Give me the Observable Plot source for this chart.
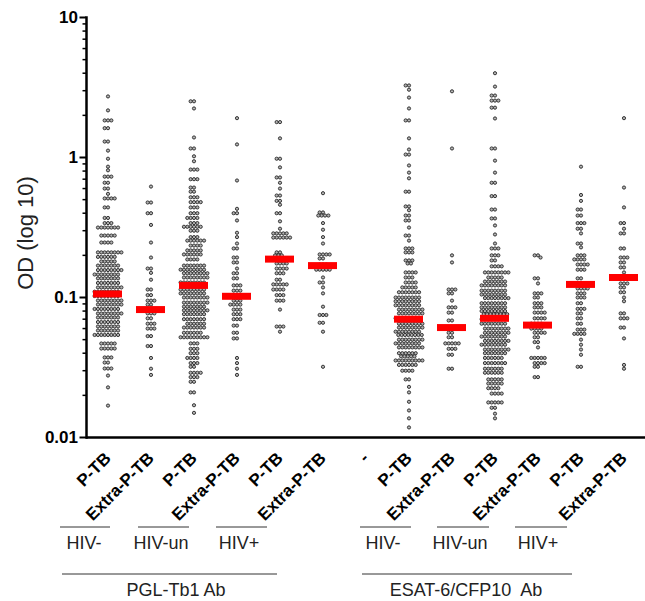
<!DOCTYPE html>
<html><head><meta charset="utf-8">
<script src="https://cdn.jsdelivr.net/npm/d3@7"></script>
<script src="https://cdn.jsdelivr.net/npm/@observablehq/plot@0.6"></script>
<style>
html,body{margin:0;padding:0;background:#fff;}
#chart{width:645px;height:601px;}
</style></head><body><div id="chart"></div>
<script>
// x slots (one empty slot separates the two antibody panels)
const groups = ["pglNegP","pglNegX","pglUnP","pglUnX","pglPosP","pglPosX","gap","esatNegP","esatNegX","esatUnP","esatUnX","esatPosP","esatPosX"];
const tickLabels = ["P-TB","Extra-P-TB","P-TB","Extra-P-TB","P-TB","Extra-P-TB","-","P-TB","Extra-P-TB","P-TB","Extra-P-TB","P-TB","Extra-P-TB"];
const medians = [0.106,0.082,0.122,0.102,0.188,0.169,null,0.070,0.061,0.071,0.0635,0.124,0.139];
const majorTicks = [0.01,0.1,1,10];
const minorTicks = [0.02,0.03,0.04,0.05,0.06,0.07,0.08,0.09,0.2,0.3,0.4,0.5,0.6,0.7,0.8,0.9,2,3,4,5,6,7,8,9];
const hivLabels = ["HIV-","HIV-un","HIV+"];
const antibodyLabels = ["PGL-Tb1 Ab","ESAT-6/CFP10  Ab"];
const yLabel = "OD (log 10)";

// each group: [OD value, number of samples at that level]
const pglNegP = [[2.73,1],[2.17,1],[1.84,3],[1.62,2],[1.30,2],[1.12,1],[0.98,1],[0.86,1],[0.81,1],[0.73,3],[0.66,2],[0.60,2],[0.55,1],[0.51,4],[0.44,2],[0.37,2],[0.34,3],[0.316,7],[0.277,5],[0.247,4],[0.21,8],[0.195,6],[0.181,5],[0.169,7],[0.157,8],[0.146,8],[0.137,7],[0.127,7],[0.118,8],[0.110,8],[0.1025,8],[0.0952,8],[0.0891,8],[0.0828,8],[0.0769,8],[0.0720,7],[0.0668,7],[0.0621,7],[0.0581,7],[0.0540,8],[0.0469,5],[0.0432,5],[0.0373,3],[0.0343,2],[0.0311,3],[0.0277,1],[0.0228,1],[0.0169,1]];
const pglNegX = [[0.62,1],[0.477,2],[0.40,2],[0.33,1],[0.247,1],[0.193,1],[0.161,2],[0.15,1],[0.134,1],[0.114,2],[0.104,2],[0.095,3],[0.089,2],[0.082,3],[0.077,3],[0.071,2],[0.065,3],[0.060,3],[0.053,2],[0.045,2],[0.037,1],[0.031,1],[0.028,1]];
const pglUnP = [[2.52,2],[2.24,1],[1.39,1],[1.16,2],[1.02,1],[0.94,1],[0.82,3],[0.70,3],[0.61,2],[0.57,2],[0.52,3],[0.48,4],[0.44,3],[0.40,3],[0.37,4],[0.34,3],[0.32,6],[0.30,3],[0.27,3],[0.255,6],[0.235,4],[0.217,5],[0.203,6],[0.187,4],[0.169,7],[0.158,8],[0.149,8],[0.139,8],[0.128,8],[0.122,8],[0.114,8],[0.107,8],[0.100,8],[0.092,8],[0.086,7],[0.081,8],[0.076,7],[0.070,7],[0.065,6],[0.061,7],[0.056,6],[0.052,9],[0.047,3],[0.043,3],[0.040,3],[0.037,4],[0.034,3],[0.032,2],[0.029,4],[0.027,3],[0.025,2],[0.021,2],[0.017,1],[0.015,1]];
const pglUnX = [[1.91,1],[1.24,1],[0.685,1],[0.43,1],[0.40,2],[0.355,1],[0.29,1],[0.27,1],[0.243,1],[0.224,2],[0.193,2],[0.178,2],[0.161,1],[0.149,2],[0.137,2],[0.122,3],[0.112,3],[0.103,4],[0.095,3],[0.089,4],[0.082,3],[0.076,3],[0.070,3],[0.063,2],[0.056,2],[0.051,2],[0.037,1],[0.034,1],[0.031,1],[0.028,1]];
const pglPosP = [[1.79,2],[1.37,1],[0.98,2],[0.85,1],[0.72,2],[0.66,1],[0.60,1],[0.535,2],[0.49,2],[0.46,1],[0.40,2],[0.35,1],[0.31,1],[0.287,5],[0.268,6],[0.21,2],[0.20,3],[0.187,4],[0.175,4],[0.161,4],[0.149,3],[0.134,2],[0.124,5],[0.114,4],[0.104,3],[0.095,3],[0.082,1],[0.062,3],[0.057,1]];
const pglPosX = [[0.556,1],[0.405,2],[0.385,4],[0.34,1],[0.305,1],[0.27,1],[0.243,1],[0.203,4],[0.19,2],[0.172,3],[0.158,5],[0.139,1],[0.128,2],[0.118,1],[0.107,1],[0.086,1],[0.075,3],[0.066,2],[0.057,1],[0.032,1]];
const esatNegP = [[3.27,2],[3.05,1],[2.68,1],[2.24,1],[1.84,2],[1.37,1],[1.14,1],[1.05,2],[0.877,1],[0.78,1],[0.71,1],[0.57,2],[0.447,2],[0.42,1],[0.385,2],[0.355,2],[0.316,1],[0.277,2],[0.255,1],[0.224,3],[0.21,3],[0.184,3],[0.175,2],[0.151,4],[0.139,3],[0.128,4],[0.118,5],[0.109,7],[0.100,8],[0.094,8],[0.088,8],[0.082,8],[0.077,8],[0.071,8],[0.065,8],[0.061,8],[0.057,8],[0.054,8],[0.050,8],[0.047,8],[0.044,8],[0.040,6],[0.038,5],[0.0355,9],[0.033,6],[0.030,4],[0.026,2],[0.023,1],[0.021,1],[0.018,1],[0.0156,1],[0.0137,1],[0.0118,1]];
const esatNegX = [[2.97,1],[1.16,1],[0.2,1],[0.178,1],[0.114,3],[0.107,2],[0.095,1],[0.085,3],[0.078,2],[0.0685,2],[0.061,3],[0.056,2],[0.052,2],[0.047,5],[0.043,3],[0.039,2],[0.031,2]];
const esatUnP = [[4.0,1],[3.21,1],[2.77,2],[2.55,3],[2.27,2],[1.9,1],[1.16,2],[0.95,1],[0.78,1],[0.66,2],[0.53,2],[0.425,2],[0.367,2],[0.327,1],[0.282,1],[0.243,1],[0.224,3],[0.2,3],[0.184,2],[0.167,4],[0.151,8],[0.139,5],[0.13,7],[0.122,8],[0.112,8],[0.105,8],[0.099,8],[0.091,8],[0.085,8],[0.080,8],[0.076,8],[0.070,8],[0.065,8],[0.060,8],[0.056,8],[0.0526,8],[0.049,8],[0.046,8],[0.0425,8],[0.040,7],[0.037,6],[0.034,7],[0.031,6],[0.029,6],[0.026,5],[0.0243,5],[0.0225,4],[0.0206,4],[0.0178,5],[0.0163,2],[0.0148,1],[0.0137,1]];
const esatUnX = [[0.2,2],[0.193,1],[0.137,2],[0.126,1],[0.107,3],[0.1,2],[0.091,3],[0.085,3],[0.078,4],[0.071,4],[0.065,4],[0.06,4],[0.056,4],[0.052,2],[0.048,2],[0.044,1],[0.037,5],[0.034,4],[0.032,2],[0.027,2]];
const esatPosP = [[0.86,1],[0.54,1],[0.49,1],[0.425,2],[0.385,2],[0.34,3],[0.31,2],[0.287,1],[0.243,2],[0.228,1],[0.2,3],[0.187,4],[0.172,4],[0.158,3],[0.137,2],[0.126,2],[0.116,4],[0.107,3],[0.1,3],[0.091,2],[0.083,3],[0.077,2],[0.071,2],[0.065,2],[0.059,3],[0.055,4],[0.05,1],[0.046,1],[0.0425,1],[0.039,1],[0.032,2]];
const esatPosX = [[1.91,1],[0.61,1],[0.44,1],[0.34,2],[0.31,1],[0.287,2],[0.224,2],[0.193,3],[0.178,2],[0.164,2],[0.151,1],[0.139,2],[0.126,3],[0.118,2],[0.109,2],[0.1,1],[0.094,1],[0.077,2],[0.071,3],[0.061,2],[0.051,1],[0.033,1],[0.031,1]];

const groupData = {pglNegP,pglNegX,pglUnP,pglUnX,pglPosP,pglPosX,esatNegP,esatNegX,esatUnP,esatUnX,esatPosP,esatPosX};

const points = [];
for (const key of groups) {
  const rows = groupData[key];
  if (!rows) continue;
  for (const [od, n] of rows) for (let k = 0; k < n; k++) points.push({group: key, od});
}
const medianRows = groups.map((g, i) => ({group: g, od: medians[i]})).filter(d => d.od != null);
// placeholder so the empty spacer slot counts as a (non-empty) facet
const spacer = [{group: "gap", od: 1}];

const FONT = "'Liberation Sans', Arial, Helvetica, sans-serif";

const plot = Plot.plot({
  width: 645, height: 601,
  marginLeft: 85, marginRight: 0, marginTop: 17, marginBottom: 164,
  style: {fontFamily: FONT, background: "#fff", color: "#000", overflow: "visible"},
  fx: {domain: groups, padding: 0, label: null},
  y: {type: "log", domain: [0.01, 10], label: null},
  marks: [
    Plot.dot(spacer, {fx: "group", y: "od", r: 1, fill: "none", stroke: "none"}),
    Plot.axisFx({anchor: "bottom", tickRotate: -45, tickSize: 0, tickPadding: 18, tickFormat: k => tickLabels[groups.indexOf(k)], fontSize: 17, fontWeight: "bold", label: null}),
    Plot.axisY({ticks: minorTicks, tickSize: 3.5, tickFormat: () => "", label: null, strokeWidth: 1.5, stroke: "#000"}),
    Plot.axisY({ticks: majorTicks, tickSize: 6.5, tickPadding: 2, tickFormat: d => String(d), fontSize: 17, fontWeight: "bold", label: null, strokeWidth: 2, stroke: "#000"}),
    Plot.ruleY([0.01], {stroke: "#000", strokeWidth: 2.5}),
    Plot.frame({anchor: "left", facetAnchor: "left", stroke: "#000", strokeWidth: 2.5}),
    Plot.dot(points, Plot.dodgeX({anchor: "middle", padding: 0.15}, {fx: "group", y: "od", r: 1.6, fill: "#b4b4b4", stroke: "#262626", strokeWidth: 0.9})),
    Plot.tickY(medianRows, {fx: "group", y: "od", stroke: "#ff0000", strokeWidth: 7, insetLeft: 7, insetRight: 7})
  ]
});
document.getElementById("chart").appendChild(plot);

// annotations: y label and group brackets
const svg = d3.select(plot);
const ann = svg.append("g").attr("font-family", FONT).attr("fill", "#222");
ann.append("text").attr("transform", "translate(33,233) rotate(-90)").attr("text-anchor", "middle")
  .attr("font-size", 22).text(yLabel);
const hivBrackets = [
  {x1: 60, x2: 110, tx: 84, label: hivLabels[0]},
  {x1: 138, x2: 189, tx: 161, label: hivLabels[1]},
  {x1: 216, x2: 267, tx: 239, label: hivLabels[2]},
  {x1: 360, x2: 411, tx: 383, label: hivLabels[0]},
  {x1: 437, x2: 489, tx: 460, label: hivLabels[1]},
  {x1: 515, x2: 567, tx: 538, label: hivLabels[2]}
];
for (const b of hivBrackets) {
  ann.append("line").attr("x1", b.x1).attr("x2", b.x2).attr("y1", 527).attr("y2", 527).attr("stroke", "#333").attr("stroke-width", 1);
  ann.append("text").attr("x", b.tx).attr("y", 549).attr("text-anchor", "middle").attr("font-size", 18).text(b.label);
}
const abBrackets = [
  {x1: 62, x2: 277, tx: 176, label: antibodyLabels[0]},
  {x1: 362, x2: 572, tx: 466, label: antibodyLabels[1]}
];
for (const b of abBrackets) {
  ann.append("line").attr("x1", b.x1).attr("x2", b.x2).attr("y1", 574).attr("y2", 574).attr("stroke", "#333").attr("stroke-width", 1);
  ann.append("text").attr("x", b.tx).attr("y", 596).attr("text-anchor", "middle").attr("font-size", 18).attr("xml:space", "preserve").style("white-space", "pre").text(b.label);
}
</script>
</body></html>
